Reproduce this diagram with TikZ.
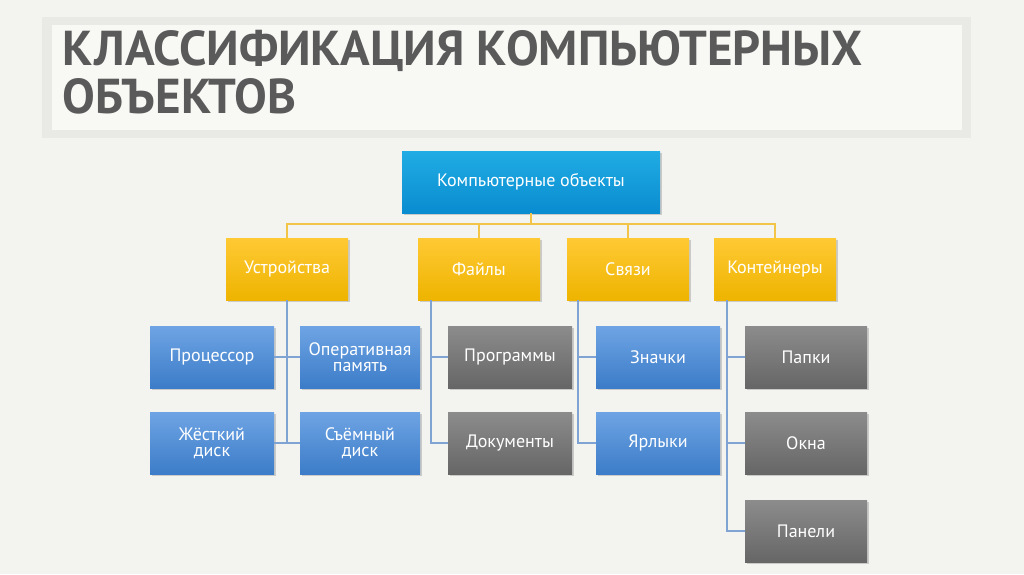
\documentclass[tikz,border=0pt]{standalone}
\usepackage{fontspec}
\setmainfont{PT Sans}
\usetikzlibrary{shadows}
\definecolor{bg}{HTML}{F3F3EF}
\definecolor{band}{HTML}{E9E9E6}
\definecolor{ttl}{HTML}{5A5A5A}
\definecolor{lnO}{HTML}{F2C548}
\definecolor{lnB}{HTML}{7FA3D3}
\tikzset{
 bx/.style={draw=none,minimum height=62pt,align=center,text=white,font=\fontsize{18}{18}\selectfont,drop shadow={opacity=0.35,shadow xshift=1.5pt,shadow yshift=-1.5pt}},
 rootb/.style={bx,minimum width=258pt,top color={rgb,255:red,32;green,172;blue,228},bottom color={rgb,255:red,10;green,140;blue,208}},
 orb/.style={bx,minimum width=122pt,top color={rgb,255:red,255;green,201;blue,52},bottom color={rgb,255:red,238;green,180;blue,0}},
 blb/.style={bx,minimum width=124pt,top color={rgb,255:red,110;green,164;blue,228},bottom color={rgb,255:red,60;green,124;blue,200}},
 grb/.style={bx,minimum width=124pt,top color={rgb,255:red,140;green,140;blue,140},bottom color={rgb,255:red,102;green,102;blue,102}},
 oln/.style={draw=lnO,line width=1.2pt},
 bln/.style={draw=lnB,line width=1.2pt}
}
\begin{document}
\begin{tikzpicture}[x=1pt,y=-1pt]
\fill[bg] (0,0) rectangle (1024,574);
\useasboundingbox (0,0) rectangle (1024,574);
\fill[band] (42,17) rectangle (971,138);
\fill[bg!60!white] (52,25) rectangle (962,130);
\node[anchor=north west,text=ttl,font=\fontsize{49}{48}\selectfont\bfseries,align=left,inner sep=0pt] (t) at (62,30) {КЛАССИФИКАЦИЯ КОМПЬЮТЕРНЫХ\\ОБЪЕКТОВ};
\node[rootb] (r) at (531,182) {Компьютерные объекты};
\node[orb] (u) at (287,269) {Устройства};
\node[orb] (f) at (479,269) {Файлы};
\node[orb] (s) at (628,269) {Связи};
\node[orb] (k) at (775,269) {Контейнеры};
\coordinate (j) at (531,224);
\draw[oln] (r.south) -- (j);
\foreach \n in {u,f,s,k} \draw[oln] (j) -| (\n.north);
\node[blb,minimum width=124pt] (u1) at (212,357) {Процессор};
\node[blb,minimum width=120pt] (u2) at (360,357) {Оперативная\\[-2pt]память};
\node[blb,minimum width=124pt] (u3) at (212,443) {Жёсткий\\[-2pt]диск};
\node[blb,minimum width=120pt] (u4) at (360,443) {Съёмный\\[-2pt]диск};
\coordinate (ue) at (287,443);
\draw[bln] (u.south) -- (ue);
\draw[bln] (u1.east) -- (u2.west);
\draw[bln] (u3.east) -- (u4.west);
\node[grb] (f1) at (510,357) {Программы};
\node[grb] (f2) at (510,443) {Документы};
\coordinate (fc) at (431,300);
\draw[bln] (fc) |- (f2.west);
\draw[bln] (431,357) -- (f1.west);
\node[blb] (s1) at (658,357) {Значки};
\node[blb] (s2) at (658,443) {Ярлыки};
\coordinate (sc) at (578,300);
\draw[bln] (sc) |- (s2.west);
\draw[bln] (578,357) -- (s1.west);
\node[grb,minimum width=122pt] (k1) at (806,357) {Папки};
\node[grb,minimum width=122pt] (k2) at (806,443) {Окна};
\node[grb,minimum width=122pt] (k3) at (806,531) {Панели};
\coordinate (kc) at (727,300);
\draw[bln] (kc) |- (k3.west);
\draw[bln] (727,357) -- (k1.west);
\draw[bln] (727,443) -- (k2.west);
\end{tikzpicture}
\end{document}
